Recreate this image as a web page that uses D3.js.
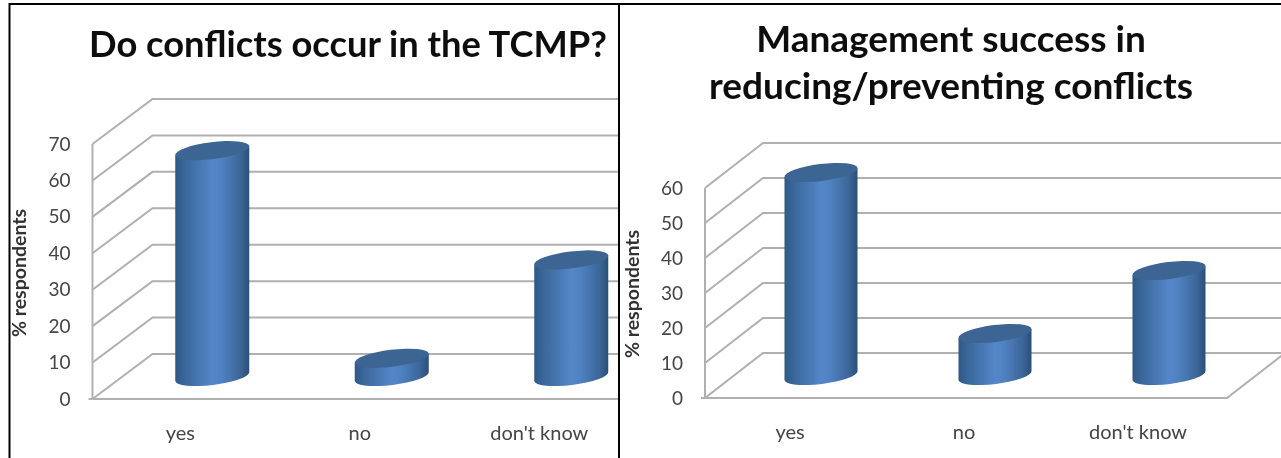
<!DOCTYPE html>
<html><head><meta charset="utf-8">
<script src="https://cdn.jsdelivr.net/npm/d3@7"></script>
<style>html,body{margin:0;padding:0;background:#fff}svg{display:block}text{font-family:Lato,"Open Sans",sans-serif}</style>
</head><body><svg id="c" width="1281" height="458"></svg>
<script>
const categories = ["yes", "no", "don't know"];
const valuesConflicts = [62, 5, 32];
const valuesManagement = [58, 12, 30];
const ticksConflicts = [0, 10, 20, 30, 40, 50, 60, 70];
const ticksManagement = [0, 10, 20, 30, 40, 50, 60];
const titleConflicts = ["Do conflicts occur in the TCMP?"];
const titleManagement = ["Management success in", "reducing/preventing conflicts"];
const yTitle = "% respondents";

const svg = d3.select("#c");
const defs = svg.append("defs");
const grad = defs.append("linearGradient").attr("id", "cyl");
[[0, "#2e5886"], [.12, "#3a6699"], [.5, "#5486c9"], [.62, "#5082c2"], [.88, "#3b6698"], [1, "#2b4f78"]]
  .forEach(([o, c]) => grad.append("stop").attr("offset", o).attr("stop-color", c));
const blur = defs.append("filter").attr("id", "soft");
blur.append("feGaussianBlur").attr("stdDeviation", 0.5);
const root = svg.append("g").attr("filter", "url(#soft)");

function chart(o) {
  const clipId = "clip" + o.id;
  defs.append("clipPath").attr("id", clipId).append("rect")
    .attr("x", o.clip[0]).attr("y", 0).attr("width", o.clip[1] - o.clip[0]).attr("height", 458);
  const g = root.append("g").attr("clip-path", `url(#${clipId})`);
  const y = d3.scaleLinear().domain([0, d3.max(o.ticks)]).range([o.y0, o.yTop]);
  const x = d3.scaleBand().domain(categories).range([o.x0, o.x1]);
  const grid = "#b0b0b0";
  const line = pts => g.append("path").attr("d", d3.line()(pts)).attr("fill", "none")
    .attr("stroke", grid).attr("stroke-width", 2);
  o.ticks.forEach(t => {
    const yy = y(t);
    if (t === 0) {
      line([[o.x0, yy], [o.x0 + o.dx, yy - o.dy], [o.x1 + o.dx, yy - o.dy], [o.x1, yy], [o.x0, yy]]);
    } else {
      line([[o.x0, yy], [o.x0 + o.dx, yy - o.dy], [o.x1 + o.dx, yy - o.dy]]);
    }
  });
  line([[o.x0, y(0)], [o.x0, y(d3.max(o.ticks))]]);
  line([[o.x0 - 4, y(0)], [o.x0, y(0)]]);

  categories.forEach((c, i) => {
    const cx = x(c) + x.bandwidth() / 2 + o.dx / 2;
    const base = y(0) - o.dy / 2;
    const top = y(o.values[i]) - o.dy / 2;
    const rx = o.rx, ry = 8.5, tilt = 4.6;
    const a = Math.hypot(rx, tilt);
    const angle = Math.atan2(-2 * tilt, 2 * rx) * 180 / Math.PI;
    const body = `M${cx - rx},${top + tilt} L${cx - rx},${base + tilt}
      A${a},${ry} ${angle} 0 0 ${cx + rx},${base - tilt}
      L${cx + rx},${top - tilt} Z`;
    g.append("path").attr("d", body).attr("fill", "url(#cyl)");
    g.append("ellipse").attr("rx", a).attr("ry", ry)
      .attr("transform", `translate(${cx},${top}) rotate(${angle})`).attr("fill", "#3c6594");
    g.append("text").attr("x", x(c) + x.bandwidth() / 2 - 2).attr("y", o.labelY)
      .attr("text-anchor", "middle").attr("font-size", 20).attr("fill", "#444").text(c);
  });

  o.ticks.forEach(t => {
    g.append("text").attr("x", o.x0 - 22).attr("y", y(t) + 6.5).attr("text-anchor", "end")
      .attr("font-size", 19).attr("fill", "#444").text(t);
  });
  g.append("text").attr("transform", `translate(${o.yTitleX},${o.yTitleY}) rotate(-90)`)
    .attr("text-anchor", "middle").attr("font-size", 19.5).attr("font-weight", 700)
    .attr("fill", "#333").text(yTitle);
  o.title.forEach((t, i) => {
    g.append("text").attr("x", o.titleX).attr("y", o.titleY + i * 47).attr("text-anchor", "middle")
      .attr("font-size", o.titleSize).attr("font-weight", 700).attr("fill", "#111").text(t);
  });
}

chart({ id: 1, clip: [10, 618], values: valuesConflicts, ticks: ticksConflicts, title: titleConflicts,
  x0: 92.5, x1: 631, y0: 399, yTop: 144, dx: 60, dy: 45, rx: 37, labelY: 440,
  yTitleX: 26, yTitleY: 273, titleX: 348, titleY: 57, titleSize: 36.3 });
chart({ id: 2, clip: [620, 1281], values: valuesManagement, ticks: ticksManagement, title: titleManagement,
  x0: 705, x1: 1227, y0: 398, yTop: 188, dx: 58, dy: 45, rx: 36.5, labelY: 439,
  yTitleX: 639, yTitleY: 294, titleX: 951, titleY: 52, titleSize: 37 });

// panel frame
const frame = [[[9.5, 458], [9.5, 4], [1281, 4]], [[619, 4], [619, 458]]];
frame.forEach(p => svg.append("path").attr("d", d3.line()(p)).attr("fill", "none")
  .attr("stroke", "#000").attr("stroke-width", 2));
</script></body></html>
